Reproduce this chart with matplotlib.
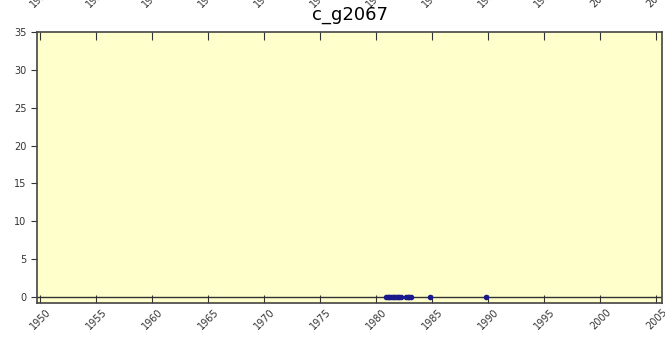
import numpy as np
import matplotlib
matplotlib.use('Agg')
import matplotlib.pyplot as plt

# observation dates (decimal years) and values
dates = [1980.9, 1981.0, 1981.15, 1981.3, 1981.45, 1981.6, 1981.75, 1981.9, 1982.05,
         1982.2, 1982.65, 1982.8, 1982.95, 1983.1, 1984.75, 1989.75]
values = [0] * len(dates)
title = 'c_g2067'
year_ticks = list(range(1950, 2006, 5))
y_ticks = list(range(0, 36, 5))

fig = plt.figure(figsize=(6.65, 3.41), dpi=100)
ax = fig.add_axes([0.0556, 0.1114, 0.94, 0.795])
ax.set_facecolor('#ffffcc')

ax.axhline(0, color='#333333', lw=1.0, zorder=1)
ax.plot(dates, values, 'o', color='#1a1a8c', ms=3, mec='#1a1a8c', zorder=3)

ax.set_xlim(1949.7, 2005.5)
ax.set_ylim(-0.8, 35)
ax.set_xticks(year_ticks)
ax.set_yticks(y_ticks)
ax.tick_params(axis='x', direction='in', length=6, top=True, labelsize=7,
               labelrotation=45, color='#333333', labelcolor='#333333', pad=3)
ax.tick_params(axis='y', direction='out', length=4, labelsize=7,
               color='#333333', labelcolor='#333333')
for lab in ax.get_xticklabels():
    lab.set_ha('center')

# rotated year labels along the top, mostly outside the figure
sec = ax.secondary_xaxis('top')
sec.set_xticks(year_ticks)
sec.tick_params(direction='in', length=0, labelsize=7, labelrotation=45,
                labelcolor='#333333', pad=16)
for lab in sec.get_xticklabels():
    lab.set_ha('center')

for sp in ax.spines.values():
    sp.set_color('#444444')
    sp.set_linewidth(1.2)
sec.spines['top'].set_visible(False)

fig.text(0.526, 0.955, title, ha='center', va='center', fontsize=13)

fig.savefig('out.png', dpi=100)
